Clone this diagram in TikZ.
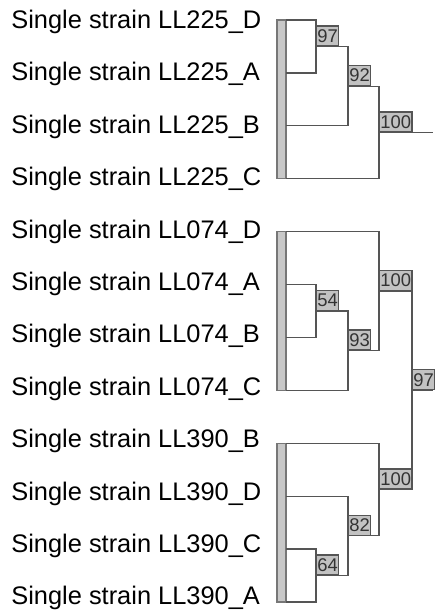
\documentclass[tikz,border=0pt]{standalone}
\usepackage{fontspec}
\setmainfont{Liberation Sans}
\definecolor{linegray}{HTML}{555555}
\definecolor{boxgray}{HTML}{C2C2C2}
\definecolor{bargray}{HTML}{C8C8C8}

\begin{document}
\begin{tikzpicture}[x=0.5pt,y=-0.5pt,
    strain/.style={anchor=base west,inner sep=0pt,font=\fontsize{12.7}{15}\selectfont},
    branch/.style={draw=linegray,line width=0.6pt},
    boot/.style={draw=linegray,fill=boxgray,line width=0.6pt,anchor=south west,
        inner xsep=0.4pt,inner ysep=0pt,minimum height=10pt,text=black!80,
        font=\fontsize{9.2}{9}\selectfont},
    bar/.style={draw=linegray!80,fill=bargray,line width=0.6pt}]
    \useasboundingbox (0,0) rectangle (435,612);

    % leaves and their names
    \foreach \s/\c [count=\i from 0] in {225/D,225/A,225/B,225/C,074/D,074/A,074/B,074/C,390/B,390/D,390/C,390/A} {
        \coordinate (l\s\c) at (286,{20+52.9*\i});
        \node[strain] (t\s\c) at (11,{28.5+52.4*\i}) {Single strain LL\s\_\c};
    }

    % grey bars
    \foreach \s/\c/\e in {225/D/C,074/D/C,390/B/A} {
        \draw[bar] (l\s\c) ++(-9,0) rectangle (l\s\e);
    }

    % joins
    \coordinate (n225DA) at (316,46.5);
    \coordinate (n225DAB) at (348,86.2);
    \coordinate (n225) at (379,132.5);
    \coordinate (r225) at (433,132.5);
    \coordinate (n074AB) at (316,311);
    \coordinate (n074ABC) at (348,350.6);
    \coordinate (n074) at (379,291.1);
    \coordinate (n390CA) at (316,575.5);
    \coordinate (n390DCA) at (348,535.8);
    \coordinate (n390) at (379,489.5);
    \coordinate (n074390) at (412,390.3);
    \coordinate (rtop) at (433,390.3);

    \foreach \a/\n/\b in {l225D/n225DA/l225A,n225DA/n225DAB/l225B,n225DAB/n225/l225C,
        l074A/n074AB/l074B,n074AB/n074ABC/l074C,l074D/n074/n074ABC,
        l390C/n390CA/l390A,l390D/n390DCA/n390CA,l390B/n390/n390DCA,n074/n074390/n390} {
        \draw[branch] (\a) -| (\n) |- (\b);
    }
    \draw[branch] (n225) -- (r225);
    \draw[branch] (n074390) -- (rtop);

    % bootstrap values
    \foreach \n/\v in {n225DA/97,n225DAB/92,n225/100,n074AB/54,n074ABC/93,n074/100,
        n390CA/64,n390DCA/82,n390/100,n074390/97} {
        \node[boot] (b\n) at (\n) {\v};
    }
\end{tikzpicture}
\end{document}
